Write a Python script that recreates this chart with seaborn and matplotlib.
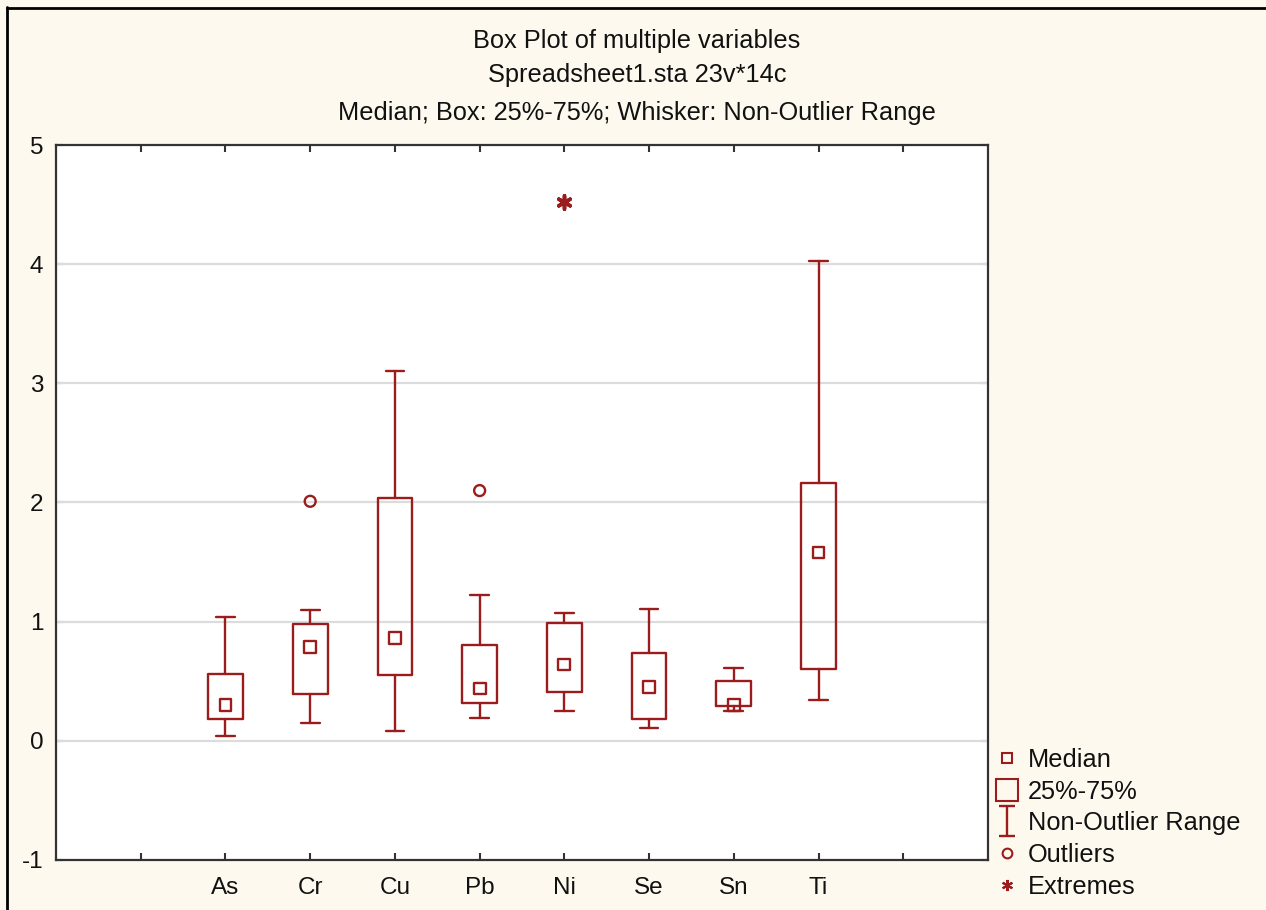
import matplotlib
matplotlib.use("Agg")
import matplotlib.pyplot as plt
import seaborn as sns
import pandas as pd
from matplotlib.path import Path
from matplotlib.lines import Line2D

# ---- data ----
categories = ['As', 'Cr', 'Cu', 'Pb', 'Ni', 'Se', 'Sn', 'Ti']
medians = [0.30, 0.79, 0.86, 0.44, 0.64, 0.45, 0.30, 1.58]
q1 = [0.18, 0.39, 0.55, 0.32, 0.41, 0.18, 0.29, 0.60]
q3 = [0.56, 0.98, 2.04, 0.80, 0.99, 0.74, 0.50, 2.16]
whisker_low = [0.04, 0.15, 0.08, 0.19, 0.25, 0.11, 0.25, 0.34]
whisker_high = [1.04, 1.10, 3.10, 1.22, 1.07, 1.11, 0.61, 4.03]
outlier_cats = ['Cr', 'Pb']
outlier_vals = [2.01, 2.10]
extreme_cats = ['Ni']
extreme_vals = [4.52]
y_ticks = [-1, 0, 1, 2, 3, 4, 5]
titles = ['Box Plot of multiple variables',
          'Spreadsheet1.sta 23v*14c',
          'Median; Box: 25%-75%; Whisker: Non-Outlier Range']
legend_labels = ['Median', '25%-75%', 'Non-Outlier Range', 'Outliers', 'Extremes']

RED = '#9B1C1C'
BG = '#FEF9EE'
FONT = ['Liberation Sans', 'DejaVu Sans']
FS = 17.5
FS_T = 18.3

sns.set_style('white')
plt.rcParams['font.family'] = FONT

W, H = 1266, 910
fig = plt.figure(figsize=(W / 100, H / 100), dpi=100, facecolor=BG)
ax = fig.add_axes([56 / W, 1 - 860 / H, (988 - 56) / W, (860 - 145) / H])
ax.set_facecolor('white')

pos = {c: i for i, c in enumerate(categories)}
stats = []
for i, c in enumerate(categories):
    stats.append(dict(med=medians[i], q1=q1[i], q3=q3[i],
                      whislo=whisker_low[i], whishi=whisker_high[i],
                      fliers=[], label=c))

lw = 1.7
ax.bxp(stats, positions=list(range(len(categories))), widths=0.41,
       capwidths=0.22, showfliers=False, patch_artist=False,
       boxprops=dict(color=RED, lw=lw),
       whiskerprops=dict(color=RED, lw=lw),
       capprops=dict(color=RED, lw=lw),
       medianprops=dict(lw=0, alpha=0), manage_ticks=False, zorder=3)

df_med = pd.DataFrame({'x': [pos[c] for c in categories], 'y': medians})
sns.scatterplot(data=df_med, x='x', y='y', ax=ax, marker='s', s=72,
                facecolor='none', edgecolor=RED, linewidth=1.7, zorder=4)
df_out = pd.DataFrame({'x': [pos[c] for c in outlier_cats], 'y': outlier_vals})
sns.scatterplot(data=df_out, x='x', y='y', ax=ax, marker='o', s=62,
                facecolor='none', edgecolor=RED, linewidth=1.7, zorder=4)
df_ext = pd.DataFrame({'x': [pos[c] for c in extreme_cats], 'y': extreme_vals})
sns.scatterplot(data=df_ext, x='x', y='y', ax=ax, marker=(6, 2, 0), s=90,
                color=RED, edgecolor=RED, linewidth=2.6, zorder=4)

ax.set_xlim(-2, len(categories) + 1)
ax.set_ylim(y_ticks[0], y_ticks[-1])
ax.set_xlabel('')
ax.set_ylabel('')
ax.set_xticks(list(range(-1, len(categories) + 1)))
ax.set_xticklabels([''] + categories + [''])
ax.set_yticks(y_ticks)
ax.set_yticklabels([str(t) for t in y_ticks])
for t in y_ticks[1:-1]:
    if t >= 0:
        ax.axhline(t, color='#dcdcdc', lw=1.6, zorder=1)
ax.tick_params(axis='both', direction='in', length=5, width=1.5,
               color='#333333', labelsize=FS, labelcolor='#111111',
               top=True, right=True, bottom=True, left=True)
ax.tick_params(axis='x', pad=12)
ax.tick_params(axis='y', pad=9)
for s in ax.spines.values():
    s.set_visible(True)
    s.set_color('#333333')
    s.set_linewidth(1.6)

# titles
for txt, ypx in zip(titles, [41, 75, 113]):
    fig.text(637 / W, 1 - ypx / H, txt, ha='center', va='center',
             fontsize=FS_T, color='#111111', family=FONT)

# outer frame (top and left border)
fig.add_artist(Line2D([7 / W, 1], [1 - 7.5 / H, 1 - 7.5 / H], color='black', lw=2,
                      transform=fig.transFigure))
fig.add_artist(Line2D([7.5 / W, 7.5 / W], [0, 1 - 7 / H], color='black', lw=2,
                      transform=fig.transFigure))

# legend
ibar = Path([(-0.5, 1), (0.5, 1), (0, 1), (0, -1), (-0.5, -1), (0.5, -1)],
            [Path.MOVETO, Path.LINETO, Path.MOVETO, Path.LINETO, Path.MOVETO, Path.LINETO])
handles = [
    Line2D([], [], ls='none', marker='s', ms=7, mfc='none', mec=RED, mew=1.5),
    Line2D([], [], ls='none', marker='s', ms=16, mfc='none', mec=RED, mew=1.5),
    Line2D([], [], ls='none', marker=ibar, ms=22, mfc='none', mec=RED, mew=1.7),
    Line2D([], [], ls='none', marker='o', ms=7, mfc='none', mec=RED, mew=1.5),
    Line2D([], [], ls='none', marker=(6, 2, 0), ms=8, mfc=RED, mec=RED, mew=1.5),
]
leg = fig.legend(handles, legend_labels, loc='upper left',
                 bbox_to_anchor=(996 / W, 1 - 748 / H), frameon=False,
                 fontsize=FS_T, handlelength=0.85, handletextpad=0.4,
                 labelspacing=0.3, borderpad=0, borderaxespad=0)
for t in leg.get_texts():
    t.set_color('#111111')

fig.savefig('out.png', dpi=100, facecolor=BG)
